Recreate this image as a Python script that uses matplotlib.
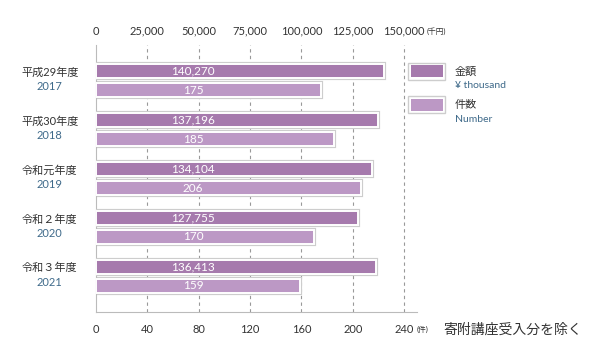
import matplotlib.pyplot as plt
from matplotlib.patches import Rectangle

plt.rcParams['font.family'] = ['Lato', 'Noto Sans CJK JP', 'DejaVu Sans']

years_jp = ["平成29年度", "平成30年度", "令和元年度", "令和２年度", "令和３年度"]
years = ["2017", "2018", "2019", "2020", "2021"]
amounts = [140270, 137196, 134104, 127755, 136413]  # 千円
counts = [175, 185, 206, 170, 159]  # 件

amount_ticks = [0, 25000, 50000, 75000, 100000, 125000, 150000]
count_ticks = [0, 40, 80, 120, 160, 200, 240]

c_amount = "#a67aad"
c_count = "#bc98c5"
c_border = "#cdcdcd"
c_text = "#333333"
c_blue = "#3f6a8a"

W, H = 600, 358
fig = plt.figure(figsize=(W / 100, H / 100), dpi=100)
ax = fig.add_axes([96 / W, (H - 312) / H, (417 - 96) / W, (312 - 45) / H])
ax2 = ax.twiny()

ax.set_xlim(0, 250)
ax2.set_xlim(0, 250 * 625)
ax.set_ylim(4.73, -0.73)

off = 0.195
h = 0.285
for i in range(len(years)):
    ya, yc = i - off, i + off
    ax2.barh(ya, amounts[i], height=h, facecolor="none", edgecolor=c_border, linewidth=3, zorder=2)
    ax2.barh(ya, amounts[i], height=h, color=c_amount, edgecolor="white", linewidth=1.4, zorder=3)
    ax.barh(yc, counts[i], height=h, facecolor="none", edgecolor=c_border, linewidth=3, zorder=2)
    ax.barh(yc, counts[i], height=h, color=c_count, edgecolor="white", linewidth=1.4, zorder=3)
    ax2.text(75.5 * 625, ya, f"{amounts[i]:,}", color="white", fontsize=8.5, ha="center", va="center", zorder=4)
    ax.text(75.5, yc, f"{counts[i]}", color="white", fontsize=8.5, ha="center", va="center", zorder=4)
    ax.text(-36, i - 0.17, years_jp[i], color=c_text, fontsize=8, ha="center", va="center")
    ax.text(-36, i + 0.12, years[i], color=c_blue, fontsize=8, ha="center", va="center")

# grid
for t in count_ticks[1:]:
    ax.axvline(t, color="#999999", linestyle=(0, (3, 3)), linewidth=0.8, zorder=1)

ax.set_xticks(count_ticks)
ax.set_xticklabels([str(t) for t in count_ticks])
ax2.set_xticks(amount_ticks)
ax2.set_xticklabels([f"{t:,}" for t in amount_ticks])
ax.set_yticks([])
ax.tick_params(axis="x", length=0, labelsize=8, labelcolor=c_text, pad=8.5)
ax2.tick_params(axis="x", length=0, labelsize=8, labelcolor=c_text, pad=6)
for a in (ax, ax2):
    for s in a.spines.values():
        s.set_visible(False)
ax.spines["left"].set_visible(True)
ax.spines["bottom"].set_visible(True)
ax.spines["left"].set_color("#bbbbbb")
ax.spines["bottom"].set_color("#bbbbbb")

# units
fig.text(427 / W, 1 - 31 / H, "(千円)", fontsize=5.5, color=c_text, va="center")
fig.text(417 / W, 1 - 329 / H, "(件)", fontsize=5.5, color=c_text, va="center")

# legend
for (y, col, l1, l2) in [(71, c_amount, "金額", "¥ thousand"), (105, c_count, "件数", "Number")]:
    fig.add_artist(Rectangle((408 / W, 1 - (y + 8.5) / H), 37 / W, 17 / H,
                             facecolor="white", edgecolor=c_border, linewidth=1, transform=fig.transFigure))
    fig.add_artist(Rectangle((410.5 / W, 1 - (y + 6) / H), 32 / W, 12 / H,
                             facecolor=col, edgecolor="none", transform=fig.transFigure))
    fig.text(455 / W, 1 - y / H, l1, fontsize=8, color=c_text, va="center")
    fig.text(455 / W, 1 - (y + 14) / H, l2, fontsize=7.5, color=c_blue, va="center")

fig.text(443 / W, 1 - 329 / H, "寄附講座受入分を除く", fontsize=10, color=c_text, va="center")

fig.savefig("out.png", dpi=100)
